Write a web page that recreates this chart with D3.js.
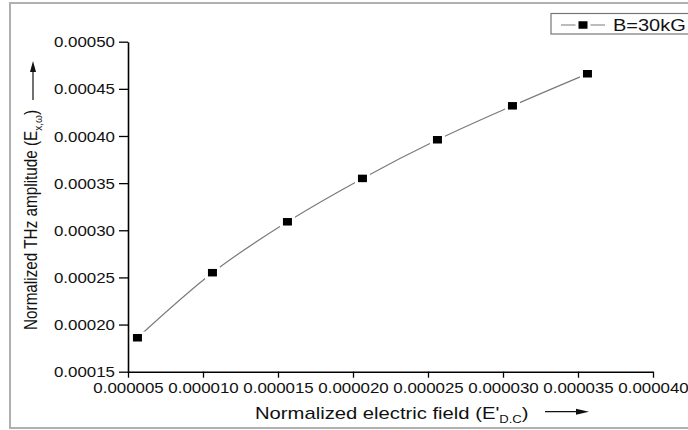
<!DOCTYPE html>
<html>
<head>
<meta charset="utf-8">
<script src="https://cdn.jsdelivr.net/npm/d3@7"></script>
<style>
  html, body { margin: 0; padding: 0; background: #fff; }
  svg { display: block; font-family: "Liberation Sans", Arial, sans-serif; }
</style>
</head>
<body>
<svg id="chart" width="688" height="430"></svg>
<script>
// Normalized D.C. electric field (x) vs normalized THz amplitude (y), B = 30 kG
const fieldValues = [5.63e-6, 10.63e-6, 15.63e-6, 20.63e-6, 25.63e-6, 30.63e-6, 35.63e-6];
const amplitudeValues = [0.000186, 0.000255, 0.000309, 0.000355, 0.000396, 0.000432, 0.000466];
const seriesName = "B=30kG";
const xTicks = [0.000005, 0.000010, 0.000015, 0.000020, 0.000025, 0.000030, 0.000035, 0.000040];
const yTicks = [0.00015, 0.00020, 0.00025, 0.00030, 0.00035, 0.00040, 0.00045, 0.00050];

const points = fieldValues.map((v, i) => ({ x: v, y: amplitudeValues[i] }));

const svg = d3.select("#chart");
const SX = 1.19; // horizontal text stretch

// outer frame
svg.append("rect")
  .attr("x", 10).attr("y", 3).attr("width", 700).attr("height", 425)
  .attr("fill", "none").attr("stroke", "#b0b0b0").attr("stroke-width", 2);

const x = d3.scaleLinear().domain([0.000005, 0.000040]).range([128, 653]);
const y = d3.scaleLinear().domain([0.00015, 0.00050]).range([371.7, 41.7]);

// minor ticks halfway between majors
const xMinor = xTicks.slice(0, -1).map((d, i) => (d + xTicks[i + 1]) / 2);
const yMinor = yTicks.slice(0, -1).map((d, i) => (d + yTicks[i + 1]) / 2);

// y axis
const gy = svg.append("g").attr("transform", "translate(128,0)");
gy.call(d3.axisLeft(y).tickValues(yMinor).tickSize(5).tickSizeOuter(0).tickFormat(""));
gy.call(d3.axisLeft(y).tickValues(yTicks).tickSize(9).tickSizeOuter(0).tickFormat(d3.format(".5f")));
gy.selectAll("path.domain").attr("stroke", "#000").attr("stroke-width", 1.6);
gy.selectAll(".tick line").attr("stroke", "#000").attr("stroke-width", 1.3);
gy.selectAll(".tick text")
  .attr("x", -13 / SX).attr("dy", "0.36em")
  .attr("transform", `scale(${SX},1)`)
  .attr("font-size", 14.2).attr("fill", "#111")
  .attr("font-family", "Liberation Sans, Arial, sans-serif");

// x axis
const gx = svg.append("g").attr("transform", "translate(0,371.7)");
gx.call(d3.axisBottom(x).tickValues(xMinor).tickSize(4).tickSizeOuter(0).tickFormat(""));
gx.call(d3.axisBottom(x).tickValues(xTicks).tickSize(6).tickSizeOuter(0).tickFormat(d3.format(".6f")));
gx.selectAll("path.domain").attr("stroke", "#000").attr("stroke-width", 1.6);
gx.selectAll(".tick line").attr("stroke", "#000").attr("stroke-width", 1.3);
gx.selectAll(".tick text")
  .attr("y", 21).attr("dy", 0)
  .attr("transform", `scale(${SX},1)`)
  .attr("font-size", 14.2).attr("fill", "#111")
  .attr("font-family", "Liberation Sans, Arial, sans-serif");

// smooth curve through the points
const line = d3.line().x(d => x(d.x)).y(d => y(d.y)).curve(d3.curveMonotoneX);
svg.append("path").datum(points)
  .attr("d", line).attr("fill", "none")
  .attr("stroke", "#7a7a7a").attr("stroke-width", 1.2);

// square markers with a white halo
const MW = 9, MH = 7.5;
svg.append("g").selectAll("rect.halo").data(points).join("rect")
  .attr("class", "halo")
  .attr("x", d => x(d.x) - MW / 2 - 3).attr("y", d => y(d.y) - MH / 2 - 2.5)
  .attr("width", MW + 6).attr("height", MH + 5).attr("fill", "#fff");
svg.append("g").selectAll("rect.mk").data(points).join("rect")
  .attr("class", "mk")
  .attr("x", d => x(d.x) - MW / 2).attr("y", d => y(d.y) - MH / 2)
  .attr("width", MW).attr("height", MH).attr("fill", "#000");

// legend
const lg = svg.append("g");
lg.append("rect").attr("x", 551).attr("y", 13.5).attr("width", 150).attr("height", 20.5)
  .attr("fill", "#fff").attr("stroke", "#777").attr("stroke-width", 1.2);
lg.append("line").attr("x1", 561).attr("x2", 605).attr("y1", 25).attr("y2", 25)
  .attr("stroke", "#7a7a7a").attr("stroke-width", 1.2);
lg.append("rect").attr("x", 583 - MW / 2 - 3).attr("y", 25 - MH / 2 - 2)
  .attr("width", MW + 6).attr("height", MH + 4).attr("fill", "#fff");
lg.append("rect").attr("x", 583 - MW / 2).attr("y", 25 - MH / 2)
  .attr("width", MW).attr("height", MH).attr("fill", "#000");
lg.append("g").attr("transform", `translate(613,31) scale(${SX},1)`)
  .append("text").attr("font-size", 16.8).attr("fill", "#111").text(seriesName);

// x axis title with arrow
const xt = svg.append("g").attr("transform", `translate(255,419) scale(${SX},1)`)
  .append("text").attr("font-size", 17).attr("fill", "#111");
xt.append("tspan").text("Normalized electric field (E'");
xt.append("tspan").attr("font-size", 11).attr("dy", 4).text("D.C");
xt.append("tspan").attr("dy", -4).text(")");
svg.append("line").attr("x1", 545).attr("x2", 580).attr("y1", 411.7).attr("y2", 411.7)
  .attr("stroke", "#111").attr("stroke-width", 1.2);
svg.append("path").attr("d", "M576,408.7 L589,411.7 L576,414.7 Z").attr("fill", "#111");

// y axis title with arrow
const yt = svg.append("g").attr("transform", "translate(37,330) scale(1.15,1) rotate(-90)")
  .append("text").attr("font-size", 15.3).attr("fill", "#111");
yt.append("tspan").text("Normalized THz amplitude (E");
yt.append("tspan").attr("font-size", 10).attr("dy", 4).text("x,ω");
yt.append("tspan").attr("dy", -4).text(")");
svg.append("line").attr("x1", 33).attr("x2", 33).attr("y1", 100).attr("y2", 70)
  .attr("stroke", "#111").attr("stroke-width", 1.2);
svg.append("path").attr("d", "M30,72 L33,61 L36,72 Z").attr("fill", "#111");
</script>
</body>
</html>
